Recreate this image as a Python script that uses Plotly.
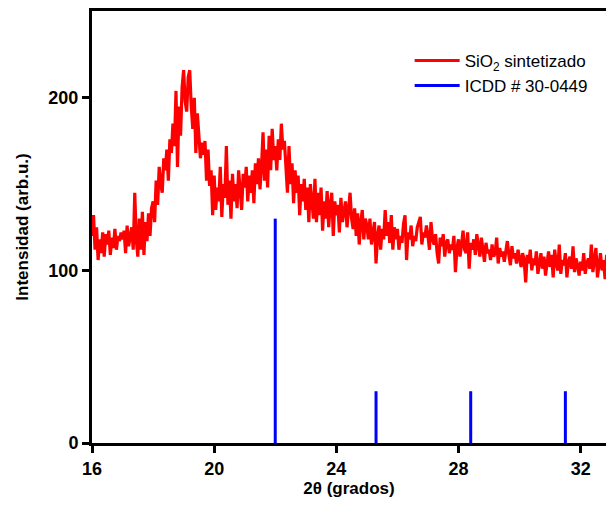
import plotly.graph_objects as go

# ---- data ----
x_start = 16.0
x_step = 0.05
sio2_intensity = [
    # 16.00 - 16.95
    120,132,112,125,106,118,110,122,108,121,115,123,109,119,113,124,112,120,117,122,
    # 17.00 - 17.95
    118,123,110,126,114,121,125,112,145,118,108,130,112,134,109,128,117,133,120,136,
    # 18.00 - 18.95
    140,128,152,138,160,150,145,165,158,170,152,176,168,185,172,204,160,195,178,206,
    # 19.00 - 19.95
    216,198,192,212,216,195,182,200,168,191,178,165,174,167,175,152,170,149,158,132,
    # 20.00 - 20.95
    155,135,148,140,160,131,150,142,172,138,152,130,156,140,150,136,158,143,135,156,
    # 21.00 - 21.95
    148,160,140,155,145,158,139,162,150,165,147,160,180,152,170,148,178,158,182,164,
    # 22.00 - 22.95
    172,158,176,164,185,170,175,160,145,172,150,162,139,158,145,155,132,150,140,153,
    # 23.00 - 23.95
    135,148,128,150,138,130,153,128,145,132,148,123,140,130,146,125,138,145,120,140,
    # 24.00 - 24.95
    132,138,122,142,128,135,140,125,138,145,130,124,136,120,133,115,128,135,118,130,
    # 25.00 - 25.95
    126,118,130,115,122,128,104,120,126,112,124,118,135,120,128,116,132,112,125,118,
    # 26.00 - 26.95
    124,112,120,116,127,132,106,122,118,126,114,120,117,125,128,131,115,122,119,126,
    # 27.00 - 27.95
    120,112,128,118,115,121,110,104,119,114,121,108,116,118,110,115,112,120,99,113,
    # 28.00 - 28.95
    118,108,115,123,112,110,122,101,116,112,118,109,121,114,108,119,111,105,116,110,
    # 29.00 - 29.95
    112,106,115,108,110,119,104,113,108,111,105,112,117,109,103,114,107,110,104,112,
    # 30.00 - 30.95
    108,102,110,106,93,109,104,112,100,107,103,111,98,106,110,101,108,97,105,111,
    # 31.00 - 31.95
    102,109,96,112,104,100,115,98,106,103,110,96,105,108,101,114,99,107,103,97,
    # 32.00 - 32.95
    105,100,110,98,104,107,101,115,99,108,113,96,104,110,100,106,95,109,102,98,
    # 33.00 - 33.10
    104,97,101,
]
sio2_theta = [round(x_start + i * x_step, 2) for i in range(len(sio2_intensity))]

icdd_theta = [22.0, 25.3, 28.4, 31.5]
icdd_intensity = [130, 30, 30, 30]

x_ticks = [16, 20, 24, 28, 32]
y_ticks = [0, 100, 200]

# build stick pattern
stick_x, stick_y = [], []
for t, v in zip(icdd_theta, icdd_intensity):
    stick_x += [t, t, None]
    stick_y += [0, v, None]

FONT = "Arial, Liberation Sans, sans-serif"

fig = go.Figure()
fig.add_trace(go.Scatter(
    x=sio2_theta, y=sio2_intensity, mode="lines",
    name="SiO<sub>2</sub> sintetizado",
    line=dict(color="#ff0000", width=3.2),
))
fig.add_trace(go.Scatter(
    x=stick_x, y=stick_y, mode="lines",
    name="ICDD # 30-0449",
    line=dict(color="#0000ff", width=3),
))

fig.update_layout(
    width=598, height=490,
    margin=dict(l=84, r=0, t=3, b=55),
    paper_bgcolor="white", plot_bgcolor="white",
    font=dict(family=FONT, color="black"),
    showlegend=True,
    legend=dict(
        x=0.618, y=0.926, xanchor="left", yanchor="top",
        bgcolor="rgba(0,0,0,0)",
        font=dict(family=FONT, size=17, color="black"),
        itemwidth=45,
        tracegroupgap=0,
    ),
)

fig.update_xaxes(
    range=[16, 32.83],
    tickvals=x_ticks, ticktext=[str(v) for v in x_ticks],
    showline=True, linecolor="black", linewidth=3, mirror=True,
    ticks="outside", ticklen=7, tickwidth=3, tickcolor="black",
    showgrid=False, zeroline=False,
    tickfont=dict(family=FONT, size=18, color="black", weight="bold"),
    title=dict(text="2θ (grados)", standoff=8,
               font=dict(family=FONT, size=17, color="black", weight="bold")),
)
fig.update_yaxes(
    range=[0, 250.3],
    tickvals=y_ticks, ticktext=[str(v) for v in y_ticks],
    showline=True, linecolor="black", linewidth=3, mirror=False,
    ticks="outside", ticklen=7, tickwidth=3, tickcolor="black",
    showgrid=False, zeroline=False,
    tickfont=dict(family=FONT, size=18, color="black", weight="bold"),
    title=dict(text="Intensidad (arb.u.)", standoff=16,
               font=dict(family=FONT, size=17, color="black", weight="bold")),
)

fig.write_html("out.html")
